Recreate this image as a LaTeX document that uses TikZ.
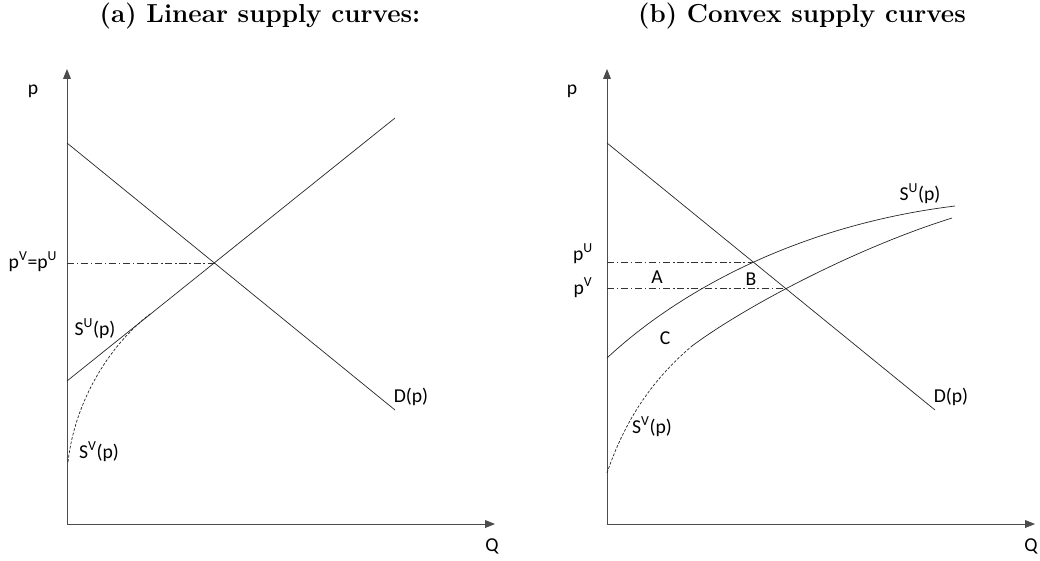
\documentclass[tikz,border=0pt]{standalone}
\usepackage{fontspec}
\newfontfamily\labelfont{Carlito}
\usetikzlibrary{arrows.meta}

\begin{document}
\begin{tikzpicture}[x=0.025cm, y=-0.025cm,
    axis/.style={draw=black!70, line width=0.6pt, -{Triangle[length=7pt,width=5.5pt]}},
    curve/.style={draw=black!85, line width=0.5pt},
    level/.style={draw=black!80, line width=0.5pt, dash pattern=on 5pt off 2pt on 1pt off 2pt},
    hidden/.style={draw=black!85, line width=0.5pt, dash pattern=on 2pt off 1.2pt},
    lbl/.style={font=\labelfont\fontsize{14}{16}\selectfont, anchor=base, inner sep=0pt},
    title/.style={font=\fontsize{18.5}{22}\selectfont\bfseries, anchor=base, inner sep=0pt}]
            \useasboundingbox (0,0) rectangle (1040,560);
            \node[title] (ta) at (260,22) {(a) Linear supply curves:};
            \node[title] (tb) at (802,22) {(b) Convex supply curves};
            % axes
            \foreach \ox/\ex/\nm in {67/495/a,607/1035/b} {
                \coordinate (o\nm) at (\ox,524);
                \coordinate (top\nm) at (\ox,69);
                \coordinate (end\nm) at (\ex,524);
                \draw[axis] (o\nm) -- (top\nm);
                \draw[axis] (o\nm) -- (end\nm);
            }
            % (a) linear
            \coordinate (da0) at (67,143);
            \coordinate (da1) at (395,410);
            \coordinate (sa0) at (67,381);
            \coordinate (sa1) at (395,118);
            \coordinate (eqa) at (215,263);
            \coordinate (pa) at (67,263);
            \draw[curve] (da0) -- (da1);
            \draw[curve] (sa0) -- (sa1);
            \draw[level] (pa) -- (eqa);
            \draw[hidden] (68,462) .. controls (75,400) and (110,345) .. (150,314);
            \node[lbl] (pla) at (33,94) {p};
            \node[lbl] (qla) at (492,551) {Q};
            \node[lbl] (peq) at (33,268) {p\textsuperscript{V}=p\textsuperscript{U}};
            \node[lbl] (sua) at (95,335) {S\textsuperscript{U}(p)};
            \node[lbl] (sva) at (99,458) {S\textsuperscript{V}(p)};
            \node[lbl] (dla) at (411,402) {D(p)};
            % (b) convex
            \coordinate (db0) at (607,143);
            \coordinate (db1) at (935,410);
            \coordinate (equ) at (753,262);
            \coordinate (eqv) at (783,288);
            \draw[curve] (db0) -- (db1);
            \draw[curve] (607,358) .. controls (680,290) and (800,225) .. (955,206);
            \draw[curve] (692,346) .. controls (740,310) and (850,250) .. (952,218);
            \draw[hidden] (607,473) .. controls (625,420) and (652,380) .. (692,346);
            \draw[level] (607,262) -- (equ);
            \draw[level] (607,288) -- (eqv);
            \node[lbl] (plb) at (572,94) {p};
            \node[lbl] (qlb) at (1031,551) {Q};
            \node[lbl] (pu) at (583,260) {p\textsuperscript{U}};
            \node[lbl] (pv) at (583,294) {p\textsuperscript{V}};
            \node[lbl] (ra) at (657,283) {A};
            \node[lbl] (rb) at (751,285) {B};
            \node[lbl] (rc) at (665,344) {C};
            \node[lbl] (svb) at (652,433) {S\textsuperscript{V}(p)};
            \node[lbl] (sub) at (920,200) {S\textsuperscript{U}(p)};
            \node[lbl] (dlb) at (951,402) {D(p)};
        \end{tikzpicture}
\end{document}
